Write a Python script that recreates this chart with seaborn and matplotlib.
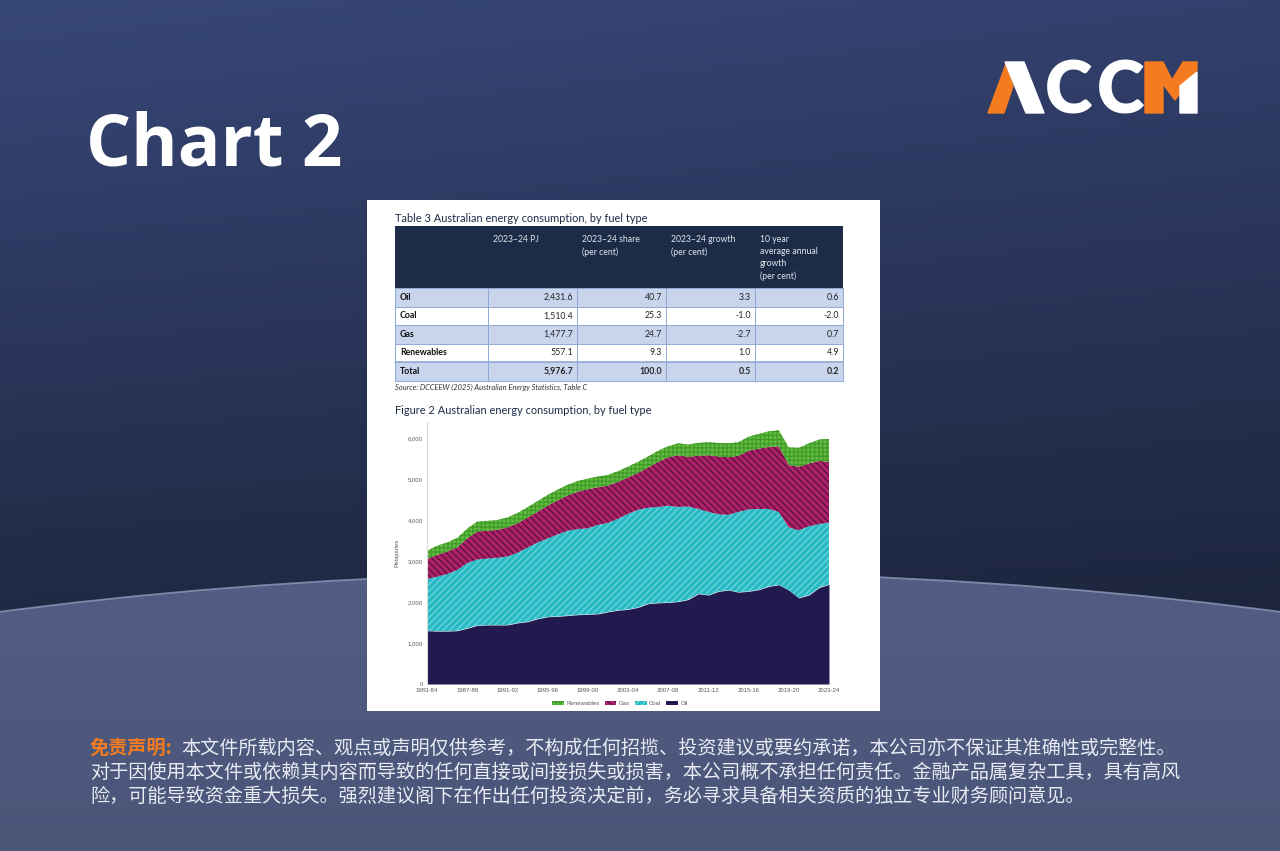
import numpy as np
import matplotlib
matplotlib.use("Agg")
import matplotlib.pyplot as plt
from matplotlib.patches import Rectangle, Ellipse, Polygon
import seaborn as sns

# ---- data -------------------------------------------------------------
years = [f"{y}-{str(y + 1)[-2:]}" for y in range(1983, 2024)]

# petajoules by fuel, 1983-84 .. 2023-24
oil = [1300, 1290, 1290, 1300, 1360, 1430, 1440, 1440, 1440, 1490,
       1520, 1590, 1640, 1650, 1670, 1690, 1700, 1710, 1760, 1800,
       1820, 1870, 1960, 1980, 1990, 2010, 2060, 2200, 2170, 2260,
       2290, 2240, 2260, 2300, 2380, 2420, 2290, 2100, 2170, 2350, 2431.6]
coal = [1260, 1330, 1390, 1480, 1590, 1610, 1620, 1640, 1670, 1710,
        1810, 1860, 1910, 2000, 2070, 2090, 2100, 2170, 2170, 2230,
        2330, 2380, 2340, 2340, 2360, 2310, 2270, 2070, 2030, 1880,
        1840, 1960, 2000, 1970, 1890, 1780, 1530, 1650, 1680, 1550, 1510.4]
gas = [490, 530, 550, 550, 600, 680, 680, 680, 710, 720,
       730, 750, 800, 830, 860, 910, 950, 920, 910, 900,
       890, 900, 980, 1100, 1180, 1260, 1210, 1300, 1380, 1410,
       1400, 1370, 1430, 1470, 1510, 1600, 1520, 1550, 1530, 1540, 1477.7]
renewables = [200, 220, 220, 230, 240, 240, 240, 240, 240, 250,
              250, 260, 260, 260, 260, 260, 260, 260, 260, 260,
              260, 270, 270, 270, 270, 290, 300, 310, 320, 330,
              340, 330, 340, 360, 380, 390, 430, 460, 490, 520, 557.1]

# Table 3
fuels = ["Oil", "Coal", "Gas", "Renewables"]
pj_2324 = [2431.6, 1510.4, 1477.7, 557.1]
share_2324 = [40.7, 25.3, 24.7, 9.3]
growth_2324 = [3.3, -1.0, -2.7, 1.0]
growth_10yr = [0.6, -2.0, 0.7, 4.9]
totals = [5976.7, 100.0, 0.5, 0.2]
col_heads = ["2023\u201324 PJ", "2023\u201324 share\n(per cent)",
             "2023\u201324 growth\n(per cent)",
             "10 year\naverage annual\ngrowth\n(per cent)"]

disclaimer_head = "免责声明:"
disclaimer = [
    "本文件所载内容、观点或声明仅供参考，不构成任何招揽、投资建议或要约承诺，本公司亦不保证其准确性或完整性。",
    "对于因使用本文件或依赖其内容而导致的任何直接或间接损失或损害，本公司概不承担任何责任。金融产品属复杂工具，具有高风",
    "险，可能导致资金重大损失。强烈建议阁下在作出任何投资决定前，务必寻求具备相关资质的独立专业财务顾问意见。",
]

# ---- style ------------------------------------------------------------
sns.set_theme(style="white")
plt.rcParams["font.family"] = ["Lato", "DejaVu Sans"]
plt.rcParams["hatch.linewidth"] = 0.9

W, H = 1280, 851
fig = plt.figure(figsize=(12.8, 8.51), dpi=100)

# background axes in pixel coordinates
bg = fig.add_axes([0, 0, 1, 1])
bg.set_xlim(0, W)
bg.set_ylim(H, 0)
bg.axis("off")

yy = np.linspace(0, 1, H)[:, None, None]
xx = np.linspace(0, 1, W)[None, :, None]
top = np.array([0x37, 0x47, 0x78]) / 255
bot = np.array([0x20, 0x29, 0x44]) / 255
t = np.clip(yy / 0.72, 0, 1)
img = (top * (1 - t) + bot * t) * (1 - 0.10 * xx)
bg.imshow(np.clip(img, 0, 1), extent=[0, W, H, 0], aspect="auto", zorder=0)

# lower arc region
arc = Ellipse((640, 932), 2800, 720, facecolor="none", edgecolor="none")
bg.add_patch(arc)
lo_top = np.array([0x52, 0x5e, 0x84]) / 255
lo_bot = np.array([0x4a, 0x55, 0x78]) / 255
t2 = np.clip((yy - 0.66) / 0.34, 0, 1)
img2 = (lo_top * (1 - t2) + lo_bot * t2) * np.ones_like(xx)
im2 = bg.imshow(img2, extent=[0, W, H, 0], aspect="auto", zorder=1)
im2.set_clip_path(arc)
bg.add_patch(Ellipse((640, 932), 2800, 720, facecolor="none",
                     edgecolor="#8f9aba", lw=1.3, alpha=0.8, zorder=2))

# title
bg.text(86, 165, "Chart 2", color="white", fontsize=51, fontweight="bold",
        family=["Open Sans", "DejaVu Sans"], va="baseline", ha="left", zorder=3)

# logo
orange = "#f47b20"
bg.add_patch(Polygon([(988, 113), (1004, 113), (1013, 86), (1006, 64)],
                     closed=True, color=orange, zorder=3))
bg.add_patch(Polygon([(1005, 62), (1024, 62), (1044, 113), (1026, 113),
                      (1014, 84)], closed=True, color="white", zorder=3))
for cx in (1069, 1121):
    bg.text(cx, 113, "C", color="white", fontsize=52, fontweight="heavy",
            family=["Lato", "DejaVu Sans"], ha="center", va="baseline", zorder=3)
bg.add_patch(Polygon([(1145, 113), (1145, 62), (1163, 62), (1172, 80),
                      (1183, 62), (1197, 62), (1197, 70), (1175, 100),
                      (1163, 84), (1163, 113)], closed=True, color=orange, zorder=3))
bg.add_patch(Polygon([(1180, 113), (1180, 86), (1197, 72), (1197, 113)],
                     closed=True, color="white", zorder=3))

# white card
bg.add_patch(Rectangle((367, 200), 513, 511, facecolor="white",
                       edgecolor="none", zorder=3))

navy = "#1c2b45"
bg.text(395, 222, "Table 3 Australian energy consumption, by fuel type",
        fontsize=7.9, color=navy, ha="left", va="baseline", zorder=5)

# table
col_x = [395, 488, 577, 666, 755, 843]
row_y = [288, 306.5, 325, 343.5, 362, 381]
bg.add_patch(Rectangle((col_x[0], 226), col_x[-1] - col_x[0], 62,
                       facecolor="#1c2c47", edgecolor="none", zorder=4))
for j, head in enumerate(col_heads):
    bg.text(col_x[j + 1] + 5, 235, head, fontsize=6.2, color="#e2e7f0",
            ha="left", va="top", linespacing=1.45, zorder=5)

rows = [(fuels[i], [pj_2324[i], share_2324[i], growth_2324[i], growth_10yr[i]])
        for i in range(len(fuels))] + [("Total", totals)]
for i, (name, vals) in enumerate(rows):
    y0, y1 = row_y[i], row_y[i + 1]
    fill = "#c8d5ec" if i % 2 == 0 else "white"
    bg.add_patch(Rectangle((col_x[0], y0), col_x[-1] - col_x[0], y1 - y0,
                           facecolor=fill, edgecolor="none", zorder=4))
    yc = (y0 + y1) / 2
    bg.text(col_x[0] + 5, yc, name, fontsize=6.3, fontweight="bold",
            color="#111111", ha="left", va="center", zorder=5)
    for j, v in enumerate(vals):
        bg.text(col_x[j + 2] - 4, yc, f"{v:,.1f}", fontsize=6.3,
                fontweight="bold" if name == "Total" else "normal",
                color="#222222", ha="right", va="center", zorder=5)
for yb in row_y:
    bg.plot([col_x[0], col_x[-1]], [yb, yb], color="#8fa9d6",
            lw=1.2 if yb == row_y[-2] else 0.7, zorder=5)
for xb in col_x:
    bg.plot([xb, xb], [row_y[0], row_y[-1]], color="#8fa9d6", lw=0.7, zorder=5)

bg.text(395, 390, "Source: DCCEEW (2025) Australian Energy Statistics, Table C",
        fontsize=5.4, style="italic", color="#333333", ha="left",
        va="baseline", zorder=5)
bg.text(395, 414, "Figure 2 Australian energy consumption, by fuel type",
        fontsize=7.9, color=navy, ha="left", va="baseline", zorder=5)

# disclaimer
cjk = ["Noto Sans CJK SC", "DejaVu Sans"]
bg.text(90, 748, disclaimer_head, fontsize=13.8, fontweight="bold",
        color=orange, family=cjk, ha="left", va="center", zorder=5)
bg.text(181, 748, disclaimer[0], fontsize=13.8, color="#e8ebf3",
        family=cjk, ha="left", va="center", zorder=5)
bg.text(90, 772, disclaimer[1], fontsize=13.8, color="#e8ebf3",
        family=cjk, ha="left", va="center", zorder=5)
bg.text(90, 796, disclaimer[2], fontsize=13.8, color="#e8ebf3",
        family=cjk, ha="left", va="center", zorder=5)

# ---- stacked area chart -----------------------------------------------
ax = fig.add_axes([427 / W, 1 - 684 / H, 402 / W, 262.4 / H])
ax.set_facecolor("none")
x = np.arange(len(years))
colors = ["#221a4f", "#27b9c4", "#ad2168", "#63bb3e"]
hatch_cols = ["#221a4f", "#6fd5dc", "#5a0f3c", "#3f9a2c"]
hatches = [None, "/////", "\\\\\\\\\\", "++++"]
polys = ax.stackplot(x, oil, coal, gas, renewables, colors=colors,
                     labels=["Oil", "Coal", "Gas", "Renewables"])
for p, h, hc in zip(polys, hatches, hatch_cols):
    p.set_edgecolor(hc)
    p.set_linewidth(0)
    if h:
        p.set_hatch(h)

ax.set_xlim(0, len(years) - 1)
ax.set_ylim(0, 6400)
ax.set_xticks(x[::4])
ax.set_xticklabels(years[::4])
ax.set_yticks(range(0, 6001, 1000))
ax.set_yticklabels([f"{v:,}" for v in range(0, 6001, 1000)])
ax.tick_params(axis="both", length=0, labelsize=4.3, colors="#5a5a5a", pad=3)
for lab in ax.get_xticklabels() + ax.get_yticklabels():
    lab.set_family(["Liberation Sans", "DejaVu Sans"])
ax.set_ylabel("Petajoules", fontsize=4.3, color="#5a5a5a",
              family=["Liberation Sans", "DejaVu Sans"], labelpad=6)
sns.despine(ax=ax, top=True, right=True, bottom=True)
ax.spines["left"].set_color("#d9d9d9")
ax.spines["left"].set_linewidth(0.8)
ax.grid(False)

handles, labels = ax.get_legend_handles_labels()
leg = ax.legend(handles[::-1], labels[::-1], loc="upper center",
                bbox_to_anchor=(0.48, -0.045), ncol=4, frameon=False,
                handlelength=2.0, handleheight=0.45,
                columnspacing=0.8, handletextpad=0.4,
                prop={"family": ["Liberation Sans", "DejaVu Sans"], "size": 4.3})
for txt in leg.get_texts():
    txt.set_color("#5a5a5a")

fig.savefig("out.png", dpi=100)
